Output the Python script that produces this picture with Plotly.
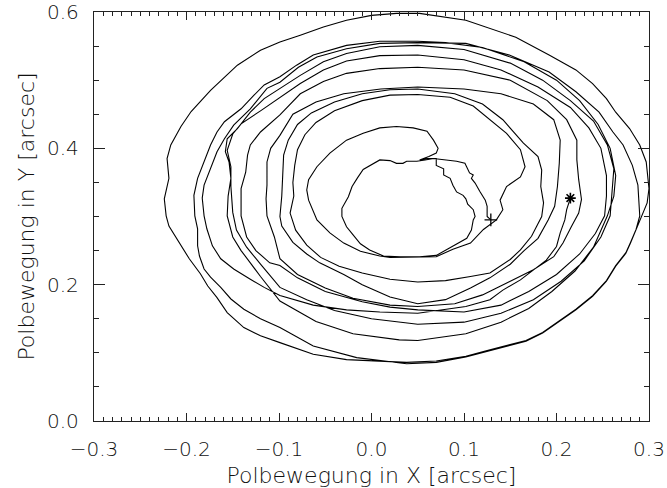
import plotly.graph_objects as go

# Polar motion track (arcsec), one segment per revolution, counterclockwise.
start_x = [0.129, 0.125, 0.125, 0.123, 0.117, 0.112, 0.108, 0.110, 0.106, 0.103, 0.101, 0.092,
           0.080, 0.067, 0.058]
start_y = [0.295, 0.300, 0.315, 0.324, 0.337, 0.349, 0.356, 0.361, 0.364, 0.372, 0.378, 0.381,
           0.383, 0.385, 0.383]

inner_x = [0.049, 0.038, 0.034, 0.027, 0.020, 0.009, -0.002, -0.009, -0.015, -0.021, -0.025, -0.032,
           -0.032, -0.027, -0.021, -0.012, -0.002, 0.013, 0.031, 0.052, 0.070, 0.088, 0.103, 0.108,
           0.110, 0.112, 0.110, 0.104, 0.102, 0.099, 0.092, 0.088, 0.085, 0.078, 0.078, 0.070,
           0.070, 0.060, 0.052, 0.062, 0.070]
inner_y = [0.381, 0.381, 0.378, 0.378, 0.382, 0.383, 0.374, 0.369, 0.357, 0.344, 0.329, 0.312,
           0.300, 0.285, 0.275, 0.260, 0.251, 0.242, 0.241, 0.241, 0.243, 0.256, 0.268, 0.280,
           0.295, 0.300, 0.310, 0.318, 0.326, 0.331, 0.336, 0.346, 0.356, 0.361, 0.370, 0.375,
           0.385, 0.385, 0.383, 0.388, 0.393]

loop2_x = [0.072, 0.067, 0.060, 0.045, 0.027, 0.009, -0.009, -0.027, -0.045, -0.059, -0.068, -0.070,
           -0.068, -0.059, -0.045, -0.030, -0.012, 0.009, 0.020, 0.045, 0.070, 0.088, 0.107, 0.121,
           0.135, 0.142, 0.139, 0.146, 0.161, 0.166, 0.161, 0.146, 0.128, 0.110, 0.085]
loop2_y = [0.400, 0.412, 0.425, 0.430, 0.432, 0.430, 0.422, 0.412, 0.393, 0.373, 0.354, 0.339,
           0.324, 0.295, 0.276, 0.261, 0.249, 0.242, 0.240, 0.240, 0.241, 0.252, 0.261, 0.281,
           0.295, 0.310, 0.324, 0.344, 0.358, 0.373, 0.398, 0.422, 0.442, 0.462, 0.475]

loop3_x = [0.050, 0.020, -0.010, -0.040, -0.060, -0.072, -0.080, -0.083, -0.085, -0.084, -0.088,
           -0.082, -0.070, -0.055, -0.035, -0.010, 0.020, 0.050, 0.080, 0.107, 0.128, 0.150, 0.161,
           0.173, 0.184, 0.186, 0.183, 0.184, 0.180, 0.164, 0.142, 0.120, 0.090]
loop3_y = [0.479, 0.478, 0.470, 0.455, 0.438, 0.420, 0.398, 0.375, 0.350, 0.330, 0.305,
           0.280, 0.258, 0.240, 0.227, 0.217, 0.208, 0.204, 0.206, 0.212, 0.217, 0.237, 0.251,
           0.271, 0.300, 0.320, 0.344, 0.368, 0.388, 0.408, 0.442, 0.465, 0.480]

loop4_x = [0.050, 0.020, -0.010, -0.040, -0.065, -0.080, -0.090, -0.095, -0.096, -0.097, -0.099,
           -0.097, -0.085, -0.070, -0.056, -0.030, -0.010, 0.020, 0.050, 0.080, 0.107, 0.128, 0.150,
           0.165, 0.180, 0.191, 0.198, 0.201, 0.203, 0.204, 0.197, 0.175, 0.140, 0.100]
loop4_y = [0.487, 0.486, 0.480, 0.468, 0.452, 0.435, 0.412, 0.390, 0.360, 0.330, 0.300,
           0.286, 0.262, 0.245, 0.232, 0.215, 0.200, 0.182, 0.172, 0.178, 0.195, 0.210, 0.230,
           0.250, 0.268, 0.295, 0.315, 0.344, 0.378, 0.412, 0.442, 0.465, 0.480, 0.487]

loop5_x = [0.050, 0.010, -0.030, -0.060, -0.085, -0.099, -0.109, -0.113, -0.113, -0.114, -0.113,
           -0.105, -0.099, -0.080, -0.050, -0.020, 0.020, 0.050, 0.090, 0.120, 0.150, 0.175, 0.197,
           0.207, 0.216, 0.224, 0.227, 0.224, 0.222, 0.222, 0.211, 0.190, 0.150, 0.100]
loop5_y = [0.490, 0.487, 0.480, 0.468, 0.450, 0.419, 0.400, 0.380, 0.346, 0.326, 0.301,
           0.270, 0.238, 0.215, 0.195, 0.180, 0.170, 0.168, 0.172, 0.185, 0.205, 0.222, 0.241,
           0.261, 0.285, 0.305, 0.325, 0.354, 0.383, 0.412, 0.442, 0.470, 0.500, 0.515]

loop6_x = [0.050, 0.009, -0.027, -0.052, -0.077, -0.099, -0.120, -0.131, -0.134, -0.136, -0.141,
           -0.141, -0.135, -0.125, -0.110, -0.099, -0.080, -0.050, -0.010, 0.020, 0.050, 0.100,
           0.140, 0.170, 0.200, 0.225, 0.242, 0.252, 0.254, 0.254, 0.248, 0.235, 0.215, 0.180,
           0.140, 0.100]
loop6_y = [0.519, 0.517, 0.510, 0.498, 0.480, 0.449, 0.424, 0.405, 0.390, 0.365, 0.341,
           0.301, 0.270, 0.250, 0.232, 0.228, 0.210, 0.190, 0.175, 0.167, 0.163, 0.160,
           0.170, 0.190, 0.215, 0.245, 0.275, 0.301, 0.330, 0.360, 0.400, 0.430, 0.460, 0.490,
           0.515, 0.530]

loop7_x = [0.050, 0.009, -0.027, -0.052, -0.077, -0.099, -0.120, -0.141, -0.150, -0.156, -0.152,
           -0.152, -0.150, -0.146, -0.135, -0.120, -0.099, -0.070, -0.040, 0.000, 0.050, 0.100,
           0.140, 0.175, 0.205, 0.230, 0.248, 0.258, 0.260, 0.262, 0.255, 0.240, 0.215, 0.185,
           0.150, 0.100]
loop7_y = [0.537, 0.536, 0.528, 0.515, 0.495, 0.474, 0.455, 0.436, 0.421, 0.397, 0.373,
           0.344, 0.306, 0.280, 0.255, 0.230, 0.196, 0.178, 0.162, 0.150, 0.142, 0.145,
           0.158, 0.178, 0.205, 0.235, 0.270, 0.301, 0.330, 0.370, 0.405, 0.440, 0.470, 0.500,
           0.525, 0.545]

loop8_x = [0.050, 0.009, -0.027, -0.052, -0.077, -0.099, -0.116, -0.131, -0.145, -0.156, -0.158,
           -0.154, -0.152, -0.155, -0.156, -0.150, -0.141, -0.131, -0.120, -0.099, -0.060, -0.020,
           0.030, 0.050, 0.102, 0.140, 0.170, 0.195, 0.220, 0.240, 0.255, 0.262, 0.264, 0.258,
           0.245, 0.225, 0.200, 0.165, 0.120, 0.080]
loop8_y = [0.551, 0.549, 0.539, 0.527, 0.507, 0.488, 0.473, 0.453, 0.429, 0.414, 0.395,
           0.380, 0.356, 0.330, 0.301, 0.270, 0.250, 0.232, 0.212, 0.176, 0.146, 0.128,
           0.119, 0.118, 0.128, 0.145, 0.165, 0.190, 0.220, 0.255, 0.301, 0.330, 0.360, 0.400,
           0.435, 0.470, 0.500, 0.527, 0.548, 0.555]

loop9_x = [0.050, 0.009, -0.027, -0.063, -0.081, -0.099, -0.116, -0.127, -0.141, -0.159, -0.167,
           -0.174, -0.181, -0.188, -0.192, -0.191, -0.188, -0.188, -0.186, -0.181, -0.174, -0.163,
           -0.152, -0.138, -0.120, -0.099, -0.063, -0.016, 0.038, 0.070, 0.102, 0.124, 0.145,
           0.167, 0.185, 0.203, 0.221, 0.239, 0.254, 0.264, 0.275, 0.280, 0.286, 0.292, 0.298,
           0.300, 0.297, 0.290, 0.279, 0.264, 0.254, 0.239, 0.221, 0.192, 0.156, 0.102, 0.074]
loop9_y = [0.557, 0.557, 0.551, 0.537, 0.522, 0.505, 0.493, 0.478, 0.458, 0.439, 0.424,
           0.405, 0.380, 0.356, 0.331, 0.301, 0.282, 0.257, 0.242, 0.223, 0.211, 0.196,
           0.179, 0.164, 0.150, 0.137, 0.110, 0.093, 0.084, 0.086, 0.094, 0.102, 0.109,
           0.117, 0.129, 0.146, 0.163, 0.183, 0.205, 0.227, 0.246, 0.261, 0.280, 0.300, 0.320,
           0.341, 0.380, 0.405, 0.429, 0.453, 0.473, 0.495, 0.515, 0.537, 0.563, 0.588, 0.594]

loop10_x = [0.052, 0.027, 0.000, -0.027, -0.052, -0.077, -0.099, -0.120, -0.145, -0.174, -0.195,
            -0.206, -0.217, -0.221, -0.219, -0.224, -0.222, -0.219, -0.212, -0.206, -0.197, -0.185,
            -0.177, -0.167, -0.156, -0.138, -0.120, -0.099, -0.063, -0.027, 0.038, 0.070, 0.102,
            0.124, 0.145, 0.167, 0.185, 0.203, 0.221, 0.239, 0.254, 0.264, 0.275, 0.280, 0.286,
            0.290, 0.288, 0.282, 0.272, 0.261, 0.246, 0.221, 0.192, 0.149, 0.102]
loop10_y = [0.598, 0.598, 0.595, 0.588, 0.578, 0.566, 0.556, 0.544, 0.522, 0.485, 0.454,
            0.432, 0.405, 0.385, 0.356, 0.326, 0.301, 0.286, 0.271, 0.257, 0.238, 0.216,
            0.198, 0.181, 0.159, 0.137, 0.125, 0.115, 0.098, 0.090, 0.086, 0.088, 0.095,
            0.103, 0.110, 0.118, 0.130, 0.147, 0.164, 0.184, 0.206, 0.228, 0.247, 0.262, 0.281,
            0.301, 0.346, 0.375, 0.405, 0.424, 0.453, 0.483, 0.512, 0.537, 0.554]

end_x = [0.050, 0.009, -0.027, -0.059, -0.079, -0.099, -0.113, -0.131, -0.149, -0.159, -0.167,
         -0.174, -0.181, -0.183, -0.181, -0.178, -0.172, -0.163, -0.149, -0.131, -0.116, -0.099,
         -0.063, -0.027, 0.009, 0.050, 0.102, 0.128, 0.142, 0.161, 0.175, 0.189, 0.200, 0.204,
         0.209, 0.211, 0.215]
end_y = [0.555, 0.554, 0.546, 0.534, 0.519, 0.497, 0.488, 0.458, 0.434, 0.414, 0.395,
         0.370, 0.346, 0.327, 0.301, 0.282, 0.257, 0.238, 0.223, 0.208, 0.196, 0.184,
         0.170, 0.163, 0.160, 0.158, 0.168, 0.178, 0.192, 0.207, 0.222, 0.236, 0.256, 0.276,
         0.295, 0.310, 0.327]

segments_x = [start_x, inner_x, loop2_x, loop3_x, loop4_x, loop5_x, loop6_x, loop7_x,
              loop8_x, loop9_x, loop10_x, end_x]
segments_y = [start_y, inner_y, loop2_y, loop3_y, loop4_y, loop5_y, loop6_y, loop7_y,
              loop8_y, loop9_y, loop10_y, end_y]

track_x = [v for seg in segments_x for v in seg]
track_y = [v for seg in segments_y for v in seg]

x_ticks = [-0.3, -0.2, -0.1, 0.0, 0.1, 0.2, 0.3]
y_ticks = [0.0, 0.2, 0.4, 0.6]

font_family = "DejaVu Sans"
ink = "#111"

fig = go.Figure()
fig.add_trace(go.Scatter(x=track_x, y=track_y, mode="lines",
                         line=dict(color="black", width=1.1), showlegend=False,
                         hoverinfo="skip"))
# first epoch (+) and last epoch (*)
fig.add_trace(go.Scatter(x=[track_x[0]], y=[track_y[0]], mode="markers",
                         marker=dict(symbol="cross-thin-open", size=9, color="black",
                                     line=dict(color="black", width=1.3)),
                         showlegend=False))
fig.add_trace(go.Scatter(x=[track_x[-1]], y=[track_y[-1]], mode="markers",
                         marker=dict(symbol="asterisk-open", size=9, color="black",
                                     line=dict(color="black", width=1.6)),
                         showlegend=False))

axis_common = dict(showline=True, linecolor="#222", linewidth=1.3, mirror="ticks",
                   ticks="inside", tickcolor="#222", tickwidth=1.2,
                   showgrid=False, zeroline=False, automargin=False,
                   tickfont=dict(family=font_family, size=20, color=ink, weight=300))

fig.update_xaxes(range=[-0.3, 0.3], tickvals=x_ticks, tickformat=".1f", ticklen=8,
                 minor=dict(ticks="inside", dtick=0.01, tick0=0, ticklen=4,
                            tickcolor="#222", tickwidth=1),
                 ticklabelstandoff=10,
                 title=dict(text="Polbewegung in X [arcsec]", standoff=9,
                            font=dict(family=font_family, size=22, color=ink, weight=300)),
                 **axis_common)
fig.update_yaxes(range=[0, 0.6], tickvals=y_ticks, tickformat=".1f", ticklen=11,
                 minor=dict(ticks="inside", dtick=0.05, tick0=0, ticklen=5,
                            tickcolor="#222", tickwidth=1),
                 ticklabelstandoff=10,
                 title=dict(text="Polbewegung in Y [arcsec]", standoff=6,
                            font=dict(family=font_family, size=22, color=ink, weight=300)),
                 **axis_common)

fig.update_layout(width=667, height=488, margin=dict(l=94, r=18, t=12, b=67),
                  plot_bgcolor="white", paper_bgcolor="white")

fig.write_html("out.html")
